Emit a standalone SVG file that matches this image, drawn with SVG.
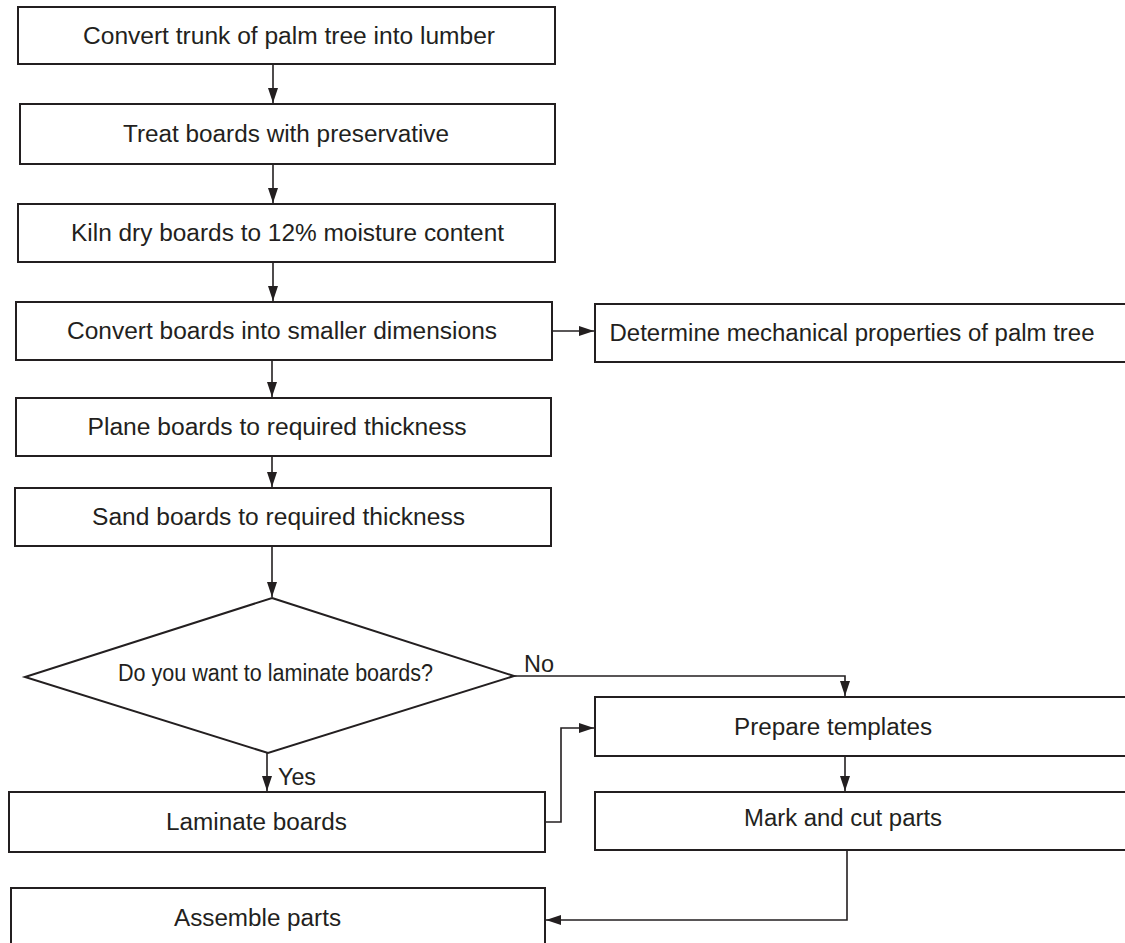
<svg xmlns="http://www.w3.org/2000/svg" width="1125" height="943" viewBox="0 0 1125 943">
<style>
.box{fill:#fff;stroke:#231f20;stroke-width:2}
.t{font-family:"Liberation Sans",Arial,sans-serif;font-size:23px;fill:#231f20;text-anchor:middle}
.l{font-family:"Liberation Sans",Arial,sans-serif;font-size:23px;fill:#231f20}
.c{fill:none;stroke:#231f20;stroke-width:1.6}
</style>
<defs>
<marker id="ah" markerUnits="userSpaceOnUse" markerWidth="16" markerHeight="12" refX="15" refY="5" orient="auto">
<path d="M0,0 L15,5 L0,10 z" fill="#231f20"/>
</marker>
</defs>
<rect width="1125" height="943" fill="#fff"/>
<g id="connectors">
<path class="c" d="M273,64 V103" marker-end="url(#ah)"/>
<path class="c" d="M273,164 V203" marker-end="url(#ah)"/>
<path class="c" d="M273,262 V301" marker-end="url(#ah)"/>
<path class="c" d="M552,331 H594" marker-end="url(#ah)"/>
<path class="c" d="M272,360 V397" marker-end="url(#ah)"/>
<path class="c" d="M272,456 V487" marker-end="url(#ah)"/>
<path class="c" d="M272,546 V597" marker-end="url(#ah)"/>
<path class="c" d="M514,676 H845 V696" marker-end="url(#ah)"/>
<path class="c" d="M267,753 V791" marker-end="url(#ah)"/>
<path class="c" d="M845,756 V791" marker-end="url(#ah)"/>
<path class="c" d="M545,822 H561 V728 H594" marker-end="url(#ah)"/>
<path class="c" d="M847,850 V920 H546" marker-end="url(#ah)"/>
</g>
<g id="n1"><rect class="box" x="18" y="7" width="537" height="57"/><text class="t" x="289" y="44" textLength="412" lengthAdjust="spacingAndGlyphs">Convert trunk of palm tree into lumber</text></g>
<g id="n2"><rect class="box" x="20" y="104" width="535" height="60"/><text class="t" x="286" y="142" textLength="326" lengthAdjust="spacingAndGlyphs">Treat boards with preservative</text></g>
<g id="n3"><rect class="box" x="18" y="204" width="537" height="58"/><text class="t" x="287.5" y="241" textLength="433" lengthAdjust="spacingAndGlyphs">Kiln dry boards to 12% moisture content</text></g>
<g id="n4"><rect class="box" x="16" y="302" width="536" height="58"/><text class="t" x="282" y="339" textLength="430" lengthAdjust="spacingAndGlyphs">Convert boards into smaller dimensions</text></g>
<g id="n5"><rect class="box" x="595" y="304" width="545" height="58"/><text class="t" x="852" y="341" textLength="485" lengthAdjust="spacingAndGlyphs">Determine mechanical properties of palm tree</text></g>
<g id="n6"><rect class="box" x="16" y="398" width="535" height="58"/><text class="t" x="277" y="435" textLength="379" lengthAdjust="spacingAndGlyphs">Plane boards to required thickness</text></g>
<g id="n7"><rect class="box" x="15" y="488" width="536" height="58"/><text class="t" x="278.5" y="525" textLength="373" lengthAdjust="spacingAndGlyphs">Sand boards to required thickness</text></g>
<g id="n8"><polygon class="box" points="272,598 514,676 268,753 25,677"/><text class="t" x="275.5" y="681" textLength="315" lengthAdjust="spacingAndGlyphs">Do you want to laminate boards?</text></g>
<g id="n9"><rect class="box" x="595" y="697" width="545" height="59"/><text class="t" x="833" y="735" textLength="198" lengthAdjust="spacingAndGlyphs">Prepare templates</text></g>
<g id="n10"><rect class="box" x="595" y="792" width="545" height="58"/><text class="t" x="843" y="826" textLength="198" lengthAdjust="spacingAndGlyphs">Mark and cut parts</text></g>
<g id="n11"><rect class="box" x="9" y="792" width="536" height="60"/><text class="t" x="256.5" y="830" textLength="181" lengthAdjust="spacingAndGlyphs">Laminate boards</text></g>
<g id="n12"><rect class="box" x="11" y="888" width="534" height="70"/><text class="t" x="257.5" y="926" textLength="167" lengthAdjust="spacingAndGlyphs">Assemble parts</text></g>
<g id="labels">
<text class="l" x="278" y="785" textLength="38" lengthAdjust="spacingAndGlyphs">Yes</text>
<text class="l" x="524" y="672" textLength="30" lengthAdjust="spacingAndGlyphs">No</text>
</g>
</svg>
